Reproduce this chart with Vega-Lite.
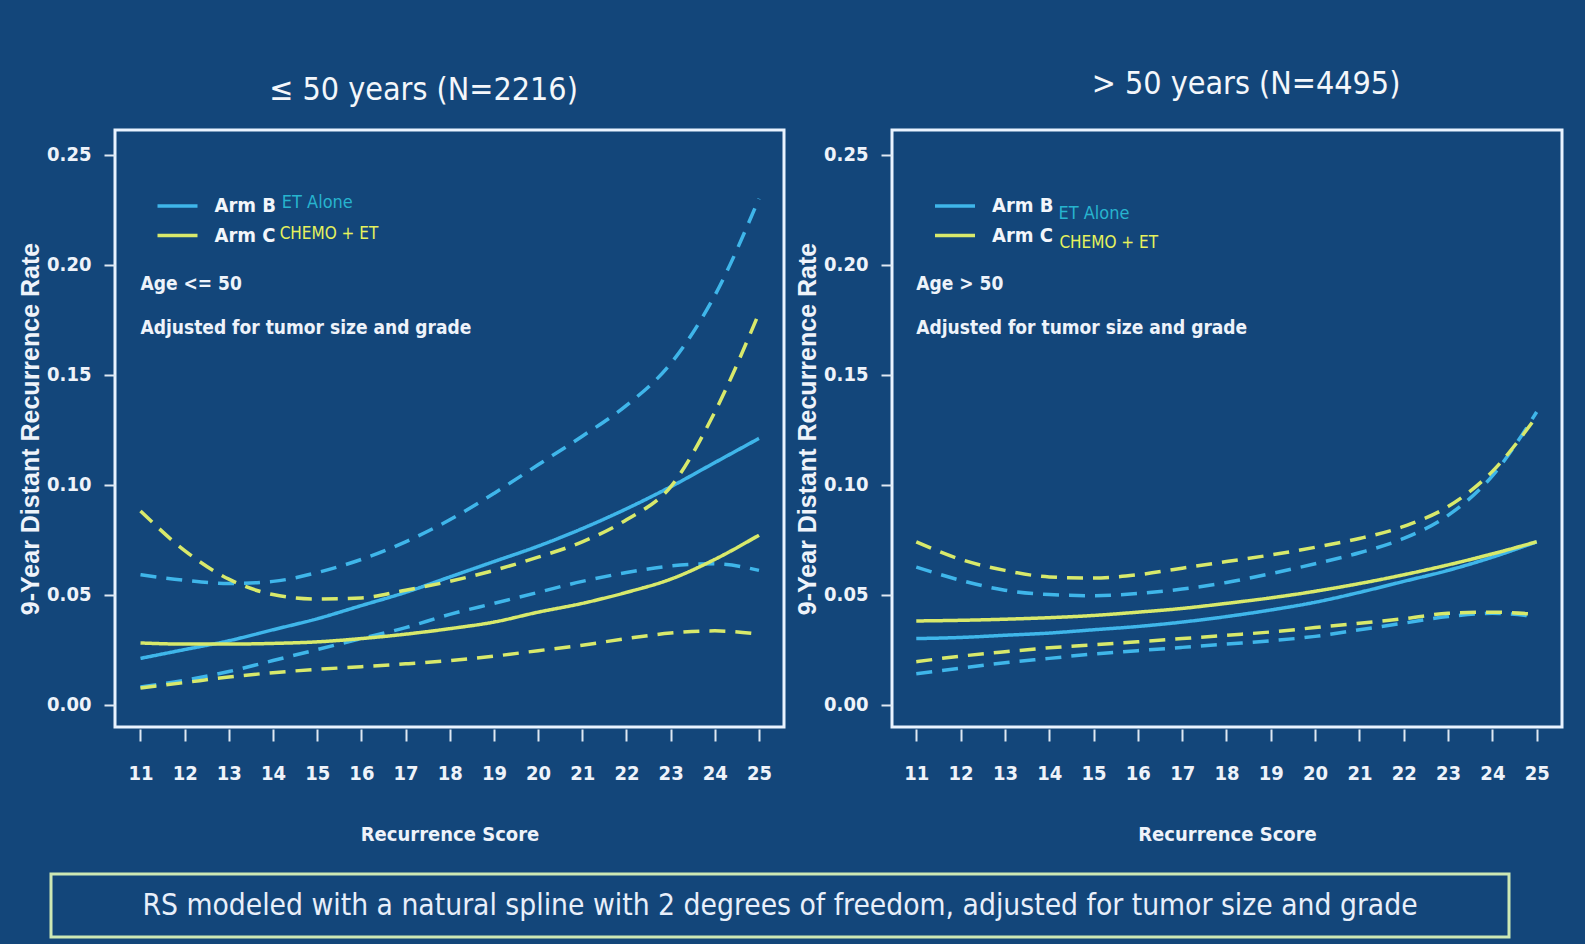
{
  "$schema": "https://vega.github.io/schema/vega-lite/v6.json",
  "background": "#13467a",
  "padding": {"left": 17, "top": 66, "right": 30, "bottom": 8},
  "datasets": {
    "curves": [
      {"panel": "le50", "arm": "B", "rs": 11, "est": 0.021, "lo": 0.008, "hi": 0.059},
      {"panel": "le50", "arm": "B", "rs": 12, "est": 0.025, "lo": 0.011, "hi": 0.0565},
      {"panel": "le50", "arm": "B", "rs": 13, "est": 0.029, "lo": 0.015, "hi": 0.055},
      {"panel": "le50", "arm": "B", "rs": 14, "est": 0.034, "lo": 0.020, "hi": 0.056},
      {"panel": "le50", "arm": "B", "rs": 15, "est": 0.039, "lo": 0.025, "hi": 0.060},
      {"panel": "le50", "arm": "B", "rs": 16, "est": 0.045, "lo": 0.030, "hi": 0.066},
      {"panel": "le50", "arm": "B", "rs": 17, "est": 0.051, "lo": 0.035, "hi": 0.074},
      {"panel": "le50", "arm": "B", "rs": 18, "est": 0.058, "lo": 0.041, "hi": 0.084},
      {"panel": "le50", "arm": "B", "rs": 19, "est": 0.065, "lo": 0.046, "hi": 0.096},
      {"panel": "le50", "arm": "B", "rs": 20, "est": 0.072, "lo": 0.051, "hi": 0.109},
      {"panel": "le50", "arm": "B", "rs": 21, "est": 0.080, "lo": 0.056, "hi": 0.122},
      {"panel": "le50", "arm": "B", "rs": 22, "est": 0.089, "lo": 0.060, "hi": 0.136},
      {"panel": "le50", "arm": "B", "rs": 23, "est": 0.099, "lo": 0.063, "hi": 0.155},
      {"panel": "le50", "arm": "B", "rs": 24, "est": 0.110, "lo": 0.064, "hi": 0.186},
      {"panel": "le50", "arm": "B", "rs": 25, "est": 0.121, "lo": 0.061, "hi": 0.230},
      {"panel": "le50", "arm": "C", "rs": 11, "est": 0.028, "lo": 0.0075, "hi": 0.088},
      {"panel": "le50", "arm": "C", "rs": 12, "est": 0.0275, "lo": 0.010, "hi": 0.070},
      {"panel": "le50", "arm": "C", "rs": 13, "est": 0.0275, "lo": 0.0125, "hi": 0.057},
      {"panel": "le50", "arm": "C", "rs": 14, "est": 0.0278, "lo": 0.0145, "hi": 0.050},
      {"panel": "le50", "arm": "C", "rs": 15, "est": 0.0285, "lo": 0.016, "hi": 0.048},
      {"panel": "le50", "arm": "C", "rs": 16, "est": 0.030, "lo": 0.0172, "hi": 0.0485},
      {"panel": "le50", "arm": "C", "rs": 17, "est": 0.032, "lo": 0.0185, "hi": 0.052},
      {"panel": "le50", "arm": "C", "rs": 18, "est": 0.0345, "lo": 0.020, "hi": 0.056},
      {"panel": "le50", "arm": "C", "rs": 19, "est": 0.0375, "lo": 0.022, "hi": 0.061},
      {"panel": "le50", "arm": "C", "rs": 20, "est": 0.042, "lo": 0.0245, "hi": 0.067},
      {"panel": "le50", "arm": "C", "rs": 21, "est": 0.046, "lo": 0.027, "hi": 0.074},
      {"panel": "le50", "arm": "C", "rs": 22, "est": 0.051, "lo": 0.030, "hi": 0.084},
      {"panel": "le50", "arm": "C", "rs": 23, "est": 0.057, "lo": 0.0325, "hi": 0.099},
      {"panel": "le50", "arm": "C", "rs": 24, "est": 0.066, "lo": 0.0335, "hi": 0.133},
      {"panel": "le50", "arm": "C", "rs": 25, "est": 0.077, "lo": 0.032, "hi": 0.178},
      {"panel": "gt50", "arm": "B", "rs": 11, "est": 0.030, "lo": 0.014, "hi": 0.0625},
      {"panel": "gt50", "arm": "B", "rs": 12, "est": 0.0305, "lo": 0.0165, "hi": 0.0565},
      {"panel": "gt50", "arm": "B", "rs": 13, "est": 0.0315, "lo": 0.019, "hi": 0.052},
      {"panel": "gt50", "arm": "B", "rs": 14, "est": 0.0325, "lo": 0.021, "hi": 0.050},
      {"panel": "gt50", "arm": "B", "rs": 15, "est": 0.034, "lo": 0.023, "hi": 0.0495},
      {"panel": "gt50", "arm": "B", "rs": 16, "est": 0.0355, "lo": 0.0245, "hi": 0.0505},
      {"panel": "gt50", "arm": "B", "rs": 17, "est": 0.0375, "lo": 0.026, "hi": 0.0525},
      {"panel": "gt50", "arm": "B", "rs": 18, "est": 0.040, "lo": 0.0275, "hi": 0.0555},
      {"panel": "gt50", "arm": "B", "rs": 19, "est": 0.043, "lo": 0.029, "hi": 0.0595},
      {"panel": "gt50", "arm": "B", "rs": 20, "est": 0.0465, "lo": 0.031, "hi": 0.064},
      {"panel": "gt50", "arm": "B", "rs": 21, "est": 0.051, "lo": 0.034, "hi": 0.069},
      {"panel": "gt50", "arm": "B", "rs": 22, "est": 0.056, "lo": 0.037, "hi": 0.0755},
      {"panel": "gt50", "arm": "B", "rs": 23, "est": 0.061, "lo": 0.040, "hi": 0.086},
      {"panel": "gt50", "arm": "B", "rs": 24, "est": 0.067, "lo": 0.0415, "hi": 0.104},
      {"panel": "gt50", "arm": "B", "rs": 25, "est": 0.074, "lo": 0.040, "hi": 0.133},
      {"panel": "gt50", "arm": "C", "rs": 11, "est": 0.038, "lo": 0.0195, "hi": 0.074},
      {"panel": "gt50", "arm": "C", "rs": 12, "est": 0.0383, "lo": 0.022, "hi": 0.066},
      {"panel": "gt50", "arm": "C", "rs": 13, "est": 0.0388, "lo": 0.024, "hi": 0.061},
      {"panel": "gt50", "arm": "C", "rs": 14, "est": 0.0395, "lo": 0.0258, "hi": 0.058},
      {"panel": "gt50", "arm": "C", "rs": 15, "est": 0.0405, "lo": 0.0272, "hi": 0.0575},
      {"panel": "gt50", "arm": "C", "rs": 16, "est": 0.042, "lo": 0.0285, "hi": 0.059},
      {"panel": "gt50", "arm": "C", "rs": 17, "est": 0.0437, "lo": 0.030, "hi": 0.062},
      {"panel": "gt50", "arm": "C", "rs": 18, "est": 0.046, "lo": 0.0315, "hi": 0.065},
      {"panel": "gt50", "arm": "C", "rs": 19, "est": 0.0485, "lo": 0.033, "hi": 0.068},
      {"panel": "gt50", "arm": "C", "rs": 20, "est": 0.0515, "lo": 0.035, "hi": 0.0715},
      {"panel": "gt50", "arm": "C", "rs": 21, "est": 0.055, "lo": 0.037, "hi": 0.0755},
      {"panel": "gt50", "arm": "C", "rs": 22, "est": 0.059, "lo": 0.039, "hi": 0.081},
      {"panel": "gt50", "arm": "C", "rs": 23, "est": 0.0635, "lo": 0.0415, "hi": 0.090},
      {"panel": "gt50", "arm": "C", "rs": 24, "est": 0.0685, "lo": 0.042, "hi": 0.106},
      {"panel": "gt50", "arm": "C", "rs": 25, "est": 0.074, "lo": 0.041, "hi": 0.131}
    ]
  },
  "bounds": "full",
  "spacing": 26,
  "vconcat": [
    {
      "bounds": "flush",
      "spacing": 0,
      "hconcat": [
        {
          "description": "empty gutter that indents the two panels from the footnote box",
          "width": 64,
          "height": 1,
          "data": {"values": []},
          "mark": "point",
          "view": {"stroke": null}
        },
        {
          "bounds": "flush",
          "spacing": 108,
          "resolve": {
            "scale": {"color": "independent", "strokeDash": "independent"},
            "legend": {"color": "independent", "strokeDash": "independent"}
          },
          "hconcat": [
            {
              "width": 669,
              "height": 597,
              "title": {"text": "≤ 50 years  (N=2216)", "dx": -26, "offset": 23},
              "layer": [
                {
                  "data": {"name": "curves"},
                  "transform": [
                    {"filter": "datum.panel === 'le50'"},
                    {"fold": ["est", "lo", "hi"], "as": ["bound", "rate"]}
                  ],
                  "mark": {"type": "line", "interpolate": "monotone", "strokeWidth": 3.5},
                  "encoding": {
                    "x": {"field": "rs", "type": "quantitative", "title": "Recurrence Score",
                          "scale": {"domain": [10.423, 25.566], "nice": false, "zero": false},
                          "axis": {"values": [11, 12, 13, 14, 15, 16, 17, 18, 19, 20, 21, 22, 23, 24, 25]}},
                    "y": {"field": "rate", "type": "quantitative", "title": "9-Year Distant Recurrence Rate",
                          "scale": {"domain": [-0.0102, 0.2612], "nice": false, "zero": false},
                          "axis": {"values": [0, 0.05, 0.1, 0.15, 0.2, 0.25], "format": ".2f"}},
                    "color": {"field": "arm", "type": "nominal",
                              "scale": {"domain": ["B", "C"], "range": ["#3fb6ea", "#d8e96b"]},
                              "legend": {"orient": "none", "legendX": 50.5, "legendY": 64, "labelExpr": "datum.value === 'B' ? 'Arm B' : 'Arm C'"}},
                    "strokeDash": {"field": "bound", "type": "nominal",
                                   "scale": {"domain": ["est", "lo", "hi"], "range": [[1, 0], [16, 10], [16, 10]]},
                                   "legend": null}
                  }
                },
                {
                  "data": {"values": [{}]},
                  "mark": {"type": "text", "text": "ET Alone", "align": "left", "baseline": "middle", "fontSize": 18, "color": "#27b4cf"},
                  "encoding": {"x": {"datum": 14.2}, "y": {"datum": 0.228}}
                },
                {
                  "data": {"values": [{}]},
                  "mark": {"type": "text", "text": "CHEMO + ET", "align": "left", "baseline": "middle", "fontSize": 17, "color": "#e6f25c"},
                  "encoding": {"x": {"datum": 14.15}, "y": {"datum": 0.214}}
                },
                {
                  "data": {"values": [{}]},
                  "mark": {"type": "text", "text": "Age <= 50", "align": "left", "baseline": "middle", "fontSize": 19, "fontWeight": "bold", "color": "#eef3fa"},
                  "encoding": {"x": {"datum": 11}, "y": {"datum": 0.191}}
                },
                {
                  "data": {"values": [{}]},
                  "mark": {"type": "text", "text": "Adjusted for tumor size and grade", "align": "left", "baseline": "middle", "fontSize": 19, "fontWeight": "bold", "color": "#eef3fa"},
                  "encoding": {"x": {"datum": 11}, "y": {"datum": 0.1714}}
                }
              ]
            },
            {
              "width": 670,
              "height": 597,
              "title": {"text": ">  50 years  (N=4495)", "dx": 19, "offset": 29},
              "layer": [
                {
                  "data": {"name": "curves"},
                  "transform": [
                    {"filter": "datum.panel === 'gt50'"},
                    {"fold": ["est", "lo", "hi"], "as": ["bound", "rate"]}
                  ],
                  "mark": {"type": "line", "interpolate": "monotone", "strokeWidth": 3.5},
                  "encoding": {
                    "x": {"field": "rs", "type": "quantitative", "title": "Recurrence Score",
                          "scale": {"domain": [10.452, 25.571], "nice": false, "zero": false},
                          "axis": {"values": [11, 12, 13, 14, 15, 16, 17, 18, 19, 20, 21, 22, 23, 24, 25]}},
                    "y": {"field": "rate", "type": "quantitative", "title": "9-Year Distant Recurrence Rate",
                          "scale": {"domain": [-0.0102, 0.2612], "nice": false, "zero": false},
                          "axis": {"values": [0, 0.05, 0.1, 0.15, 0.2, 0.25], "format": ".2f"}},
                    "color": {"field": "arm", "type": "nominal",
                              "scale": {"domain": ["B", "C"], "range": ["#3fb6ea", "#d8e96b"]},
                              "legend": {"orient": "none", "legendX": 51, "legendY": 64, "labelExpr": "datum.value === 'B' ? 'Arm B' : 'Arm C'"}},
                    "strokeDash": {"field": "bound", "type": "nominal",
                                   "scale": {"domain": ["est", "lo", "hi"], "range": [[1, 0], [16, 10], [16, 10]]},
                                   "legend": null}
                  }
                },
                {
                  "data": {"values": [{}]},
                  "mark": {"type": "text", "text": "ET Alone", "align": "left", "baseline": "middle", "fontSize": 18, "color": "#27b4cf"},
                  "encoding": {"x": {"datum": 14.21}, "y": {"datum": 0.223}}
                },
                {
                  "data": {"values": [{}]},
                  "mark": {"type": "text", "text": "CHEMO + ET", "align": "left", "baseline": "middle", "fontSize": 17, "color": "#e6f25c"},
                  "encoding": {"x": {"datum": 14.23}, "y": {"datum": 0.210}}
                },
                {
                  "data": {"values": [{}]},
                  "mark": {"type": "text", "text": "Age > 50", "align": "left", "baseline": "middle", "fontSize": 19, "fontWeight": "bold", "color": "#eef3fa"},
                  "encoding": {"x": {"datum": 11}, "y": {"datum": 0.191}}
                },
                {
                  "data": {"values": [{}]},
                  "mark": {"type": "text", "text": "Adjusted for tumor size and grade", "align": "left", "baseline": "middle", "fontSize": 19, "fontWeight": "bold", "color": "#eef3fa"},
                  "encoding": {"x": {"datum": 11}, "y": {"datum": 0.1714}}
                }
              ]
            }
          ]
        }
      ]
    },
    {
      "width": 1458,
      "height": 63,
      "view": {"stroke": "#cde8b4", "strokeWidth": 3},
      "data": {"values": [{"note": "RS modeled with a natural spline with 2 degrees of freedom, adjusted for tumor size and grade"}]},
      "mark": {"type": "text", "align": "center", "baseline": "middle", "fontSize": 29.7, "color": "#e8effa"},
      "encoding": {
        "text": {"field": "note"},
        "x": {"datum": 0.5, "type": "quantitative", "scale": {"domain": [0, 1]}, "axis": null},
        "y": {"datum": 0.5, "type": "quantitative", "scale": {"domain": [0, 1]}, "axis": null}
      }
    }
  ],
  "config": {
    "font": "DejaVu Sans Condensed, Liberation Sans, sans-serif",
    "view": {"stroke": "#e9f3ff", "strokeWidth": 3},
    "text": {"font": "DejaVu Sans Condensed, Liberation Sans, sans-serif"},
    "title": {"font": "DejaVu Sans Condensed, Liberation Sans, sans-serif", "fontSize": 32, "fontWeight": "normal", "color": "#f4f7fb", "anchor": "middle"},
    "axis": {
      "domain": false,
      "grid": false,
      "tickColor": "#dfe8f3",
      "tickWidth": 2,
      "labelColor": "#eef3fa",
      "titleColor": "#eef3fa",
      "labelFont": "DejaVu Sans Condensed, Liberation Sans, sans-serif",
      "labelFontWeight": "bold",
      "labelFontSize": 20,
      "titleFontWeight": "bold"
    },
    "axisX": {"tickSize": 12, "offset": 2, "labelPadding": 22, "titleFont": "DejaVu Sans Condensed, Liberation Sans, sans-serif", "titleFontSize": 20, "titlePadding": 41},
    "axisY": {"tickSize": 11, "labelPadding": 13, "titleFont": "Liberation Sans", "titleFontSize": 25, "titlePadding": 3},
    "legend": {
      "title": null,
      "symbolType": "M-2,0H2",
      "symbolSize": 400,
      "symbolStrokeWidth": 3.5,
      "labelFont": "DejaVu Sans Condensed, Liberation Sans, sans-serif",
      "labelFontWeight": "bold",
      "labelFontSize": 20,
      "labelColor": "#f2f6fb",
      "labelOffset": 25,
      "rowPadding": 7.5,
      "padding": 0
    }
  }
}
